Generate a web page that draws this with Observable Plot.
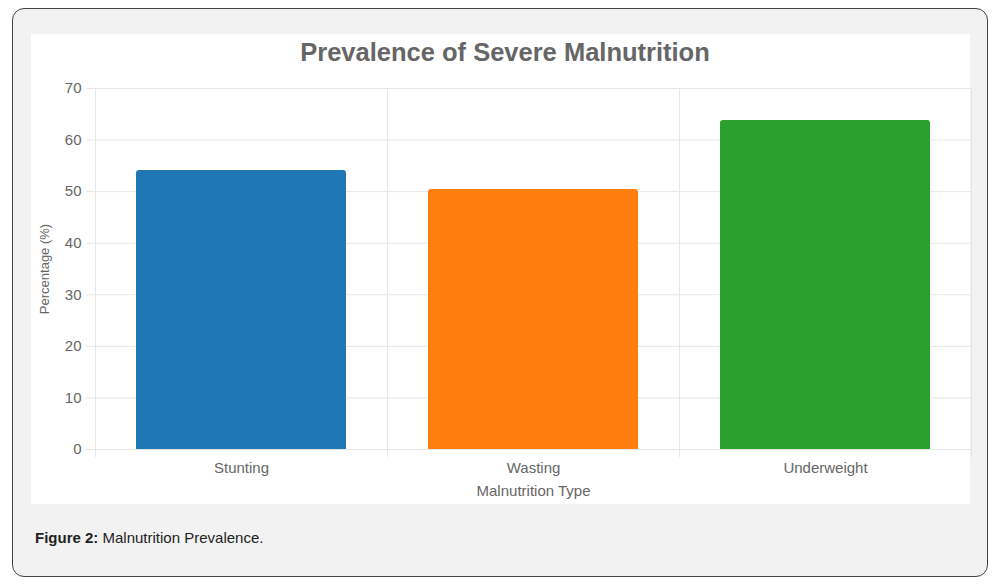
<!DOCTYPE html>
<html><head><meta charset="utf-8">
<script src="https://cdn.jsdelivr.net/npm/d3@7"></script>
<script src="https://cdn.jsdelivr.net/npm/@observablehq/plot@0.6"></script>
<style>
body{margin:0;background:#fff;font-family:"Liberation Sans",Arial,Helvetica,sans-serif;}
#frame{position:absolute;left:12px;top:8px;width:976px;height:569px;box-sizing:border-box;border:1px solid #444;border-radius:12px;background:#f2f2f2;}
#panel{position:absolute;left:31px;top:34px;width:939px;height:470px;background:#fff;}
#title{position:absolute;left:31px;width:948px;top:40px;line-height:25px;font-size:25.5px;font-weight:bold;color:#666;text-align:center;white-space:nowrap;}
#chart{position:absolute;left:31px;top:75px;}
#caption{position:absolute;left:35px;top:530px;font-size:15px;line-height:15px;color:#222;white-space:nowrap;}
</style>
</head><body>
<div id="frame"></div>
<div id="panel"></div>
<div id="title">Prevalence of Severe Malnutrition</div>
<div id="chart"></div>
<div id="caption"><b>Figure 2:</b> Malnutrition Prevalence.</div>
<script>
const categories = ["Stunting", "Wasting", "Underweight"];
const values = [54.1, 50.4, 63.8];
const colors = ["#1f77b4", "#ff7f0e", "#2ca02c"];
const yTicks = [0, 10, 20, 30, 40, 50, 60, 70];
const xTitle = "Malnutrition Type";
const yTitle = "Percentage (%)";

const data = categories.map((c, i) => ({type: c, value: values[i], color: colors[i]}));
const W = 940, H = 429, mL = 64, mR = 0, mT = 13, mB = 55;
const bw = (W - mL - mR) / categories.length;
const grid = "#e6e6e6";
const font = '"Liberation Sans", Arial, Helvetica, sans-serif';

const chart = Plot.plot({
  width: W, height: H,
  marginLeft: mL, marginRight: mR, marginTop: mT, marginBottom: mB,
  style: {fontFamily: font, fontSize: "15px", color: "#666", background: "transparent", overflow: "visible"},
  x: {domain: categories, padding: 0, axis: null},
  y: {domain: [0, 70], axis: null},
  color: {type: "identity"},
  marks: [
    Plot.gridY(yTicks, {stroke: grid, strokeOpacity: 1}),
    Plot.ruleX(categories, {x: d => d, dx: -bw / 2, stroke: grid, insetBottom: -8}),
    Plot.ruleX([categories[categories.length - 1]], {x: d => d, dx: bw / 2, stroke: grid, insetBottom: -8}),
    Plot.axisY(yTicks, {tickSize: 9, tickPadding: 5, stroke: grid, fill: "#666", fontSize: 15, label: null}),
    Plot.barY(data, {x: "type", y: "value", fill: d => d.color, insetLeft: 41, insetRight: 41, ry1: 3}),
    Plot.axisX({tickSize: 0, tickPadding: 13, fill: "#666", fontSize: 15, label: null}),
    Plot.text([xTitle], {frameAnchor: "bottom", lineAnchor: "middle", dy: 42, fill: "#666", fontSize: 15}),
    Plot.text([yTitle], {frameAnchor: "left", textAnchor: "middle", lineAnchor: "middle", dx: -51, rotate: -90, fill: "#666", fontSize: 13})
  ]
});
document.getElementById("chart").appendChild(chart);
</script>
</body></html>
